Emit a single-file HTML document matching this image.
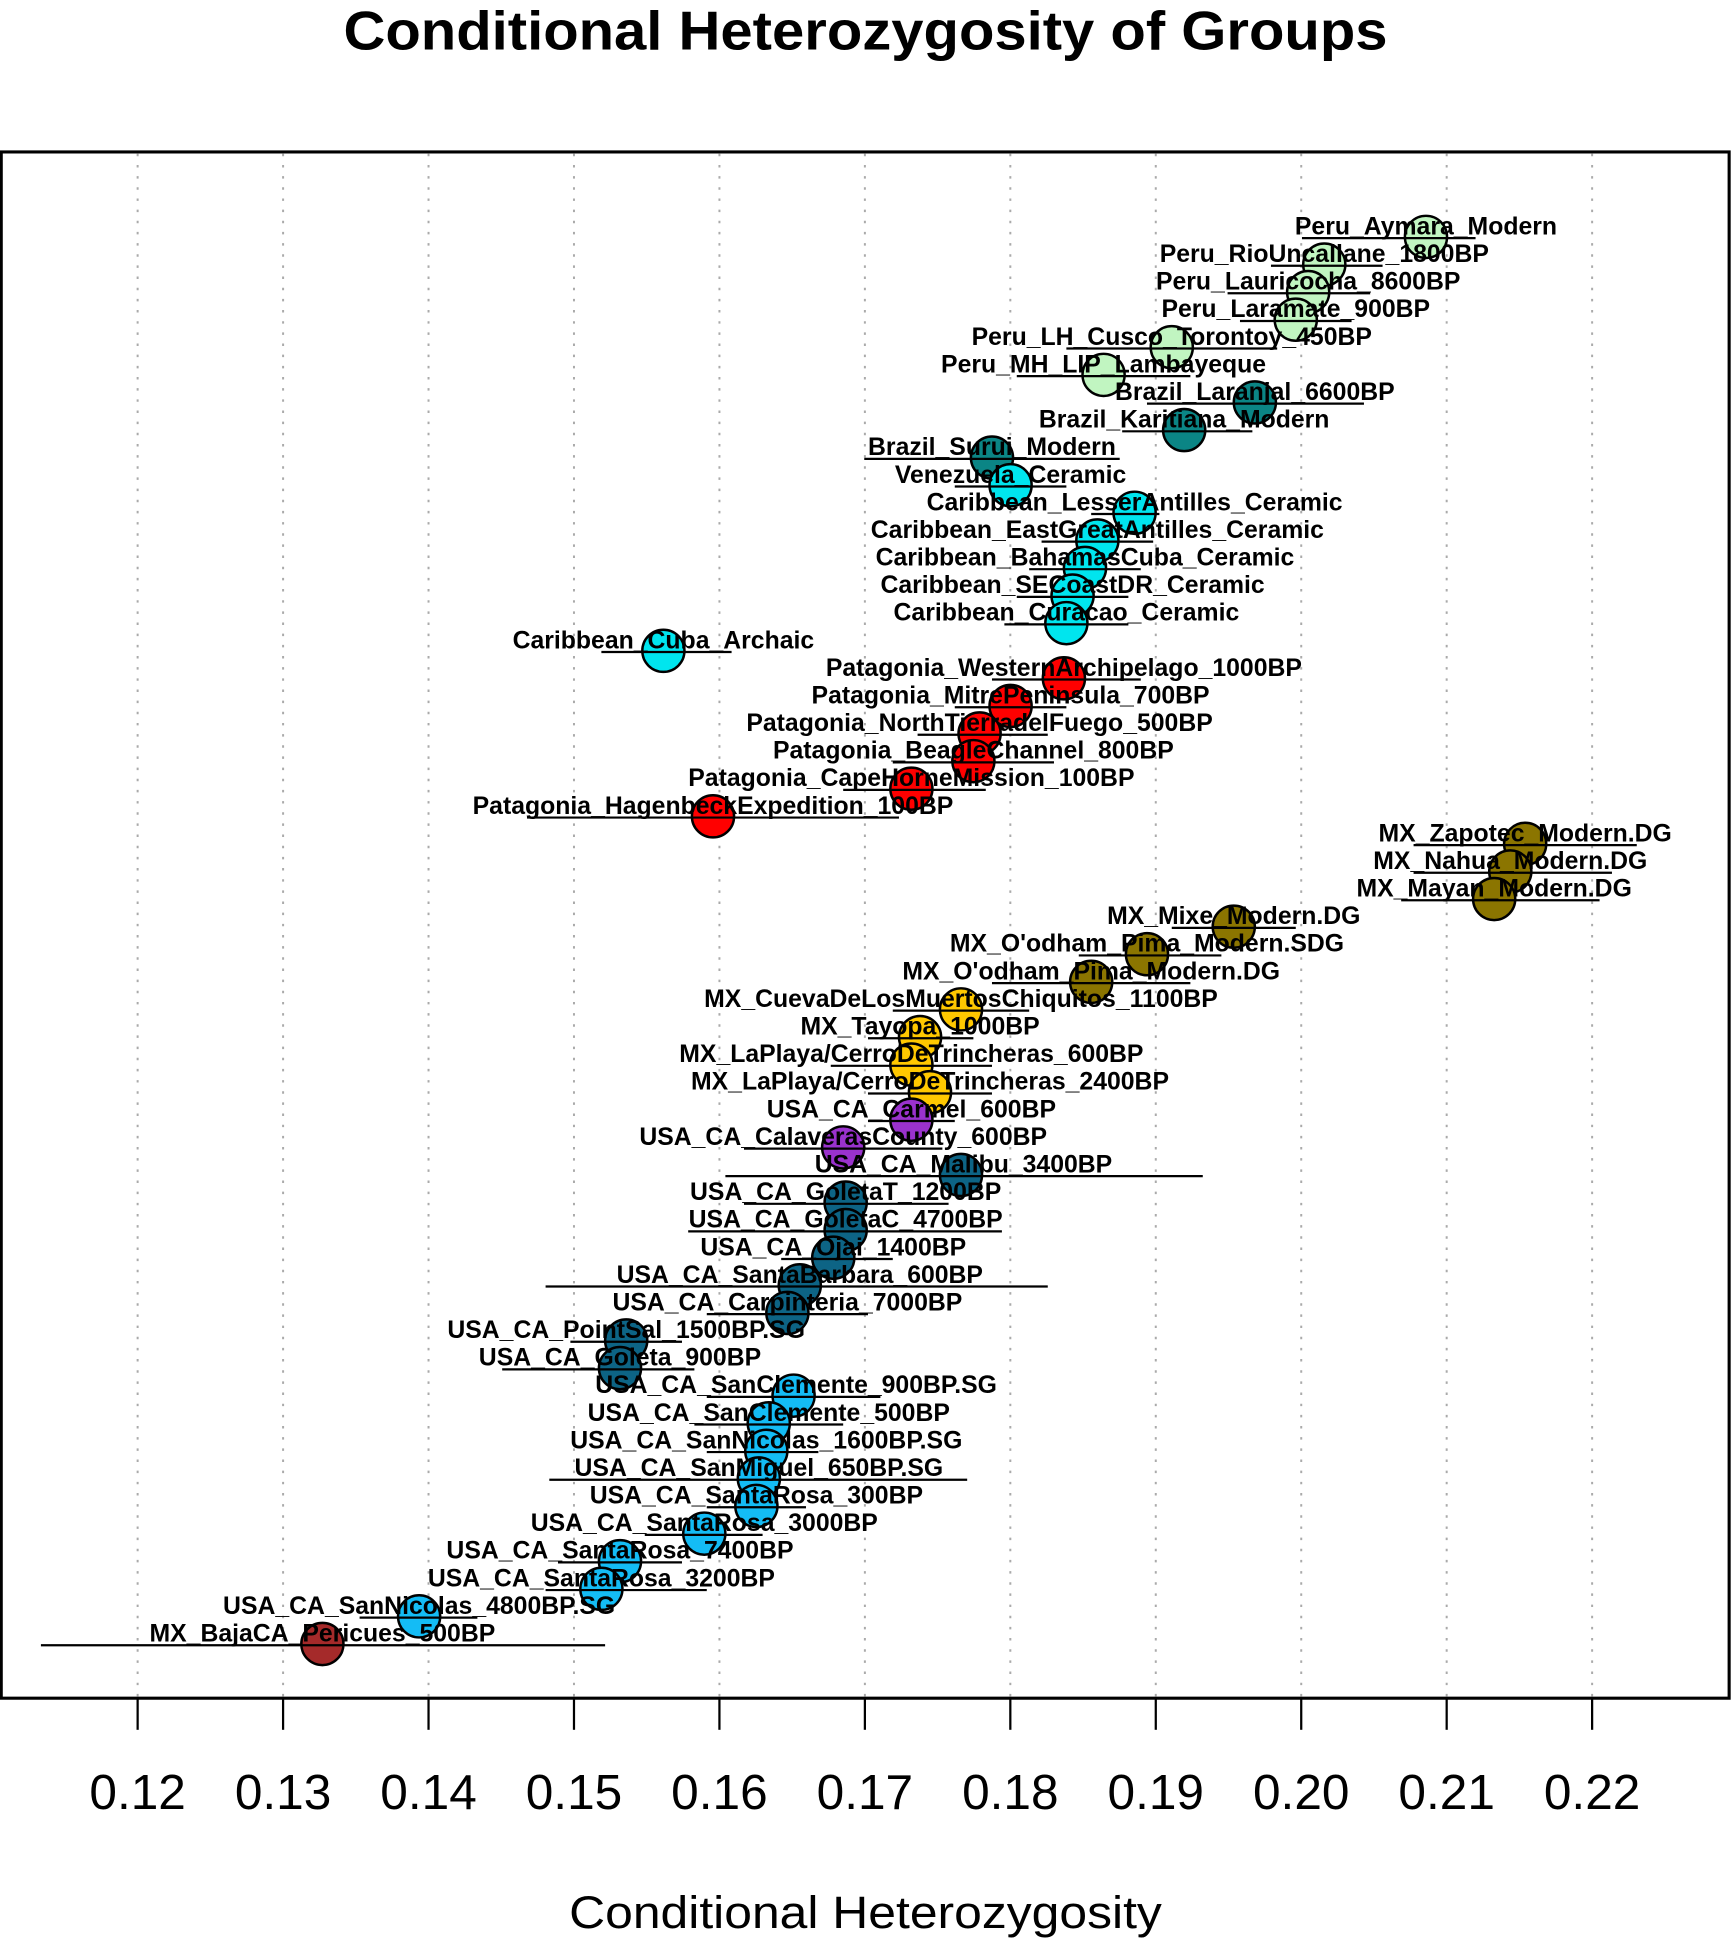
<!DOCTYPE html>
<html><head><meta charset="utf-8"><style>
html,body{margin:0;padding:0;background:#fff}
svg{display:block}
.l{font-family:"Liberation Sans",Arial,sans-serif;font-weight:bold;font-size:20px;text-anchor:middle;fill:#000}
.t{font-family:"Liberation Sans",Arial,sans-serif;font-size:40px;text-anchor:middle;fill:#000}
circle{stroke:#000;stroke-width:2}
.e{stroke:#000;stroke-width:1.8}
</style></head><body>
<svg width="1731" height="1944" viewBox="0 0 1396 1567.7" xmlns="http://www.w3.org/2000/svg">
<rect width="1396" height="1568" fill="#fff"/>
<text x="698" y="40" font-family="Liberation Sans,Arial,sans-serif" font-weight="bold" font-size="44" text-anchor="middle" textLength="842" lengthAdjust="spacingAndGlyphs">Conditional Heterozygosity of Groups</text>
<g stroke="#aaa" stroke-width="1.6" stroke-dasharray="2,7">
<line x1="111" y1="124" x2="111" y2="1369"/><line x1="228.3" y1="124" x2="228.3" y2="1369"/><line x1="345.6" y1="124" x2="345.6" y2="1369"/><line x1="462.9" y1="124" x2="462.9" y2="1369"/><line x1="580.2" y1="124" x2="580.2" y2="1369"/><line x1="697.5" y1="124" x2="697.5" y2="1369"/><line x1="814.8" y1="124" x2="814.8" y2="1369"/><line x1="932.1" y1="124" x2="932.1" y2="1369"/><line x1="1049.4" y1="124" x2="1049.4" y2="1369"/><line x1="1166.7" y1="124" x2="1166.7" y2="1369"/><line x1="1284" y1="124" x2="1284" y2="1369"/>
</g>
<rect x="1" y="122.5" width="1393.5" height="1247" fill="none" stroke="#000" stroke-width="2.5"/>
<g stroke="#000" stroke-width="1.8">
<line x1="111" y1="1370" x2="111" y2="1395"/><line x1="228.3" y1="1370" x2="228.3" y2="1395"/><line x1="345.6" y1="1370" x2="345.6" y2="1395"/><line x1="462.9" y1="1370" x2="462.9" y2="1395"/><line x1="580.2" y1="1370" x2="580.2" y2="1395"/><line x1="697.5" y1="1370" x2="697.5" y2="1395"/><line x1="814.8" y1="1370" x2="814.8" y2="1395"/><line x1="932.1" y1="1370" x2="932.1" y2="1395"/><line x1="1049.4" y1="1370" x2="1049.4" y2="1395"/><line x1="1166.7" y1="1370" x2="1166.7" y2="1395"/><line x1="1284" y1="1370" x2="1284" y2="1395"/>
</g>
<g class="t">
<text x="111" y="1459">0.12</text><text x="228.3" y="1459">0.13</text><text x="345.6" y="1459">0.14</text><text x="462.9" y="1459">0.15</text><text x="580.2" y="1459">0.16</text><text x="697.5" y="1459">0.17</text><text x="814.8" y="1459">0.18</text><text x="932.1" y="1459">0.19</text><text x="1049.4" y="1459">0.20</text><text x="1166.7" y="1459">0.21</text><text x="1284" y="1459">0.22</text>
</g>
<text x="698" y="1555" font-family="Liberation Sans,Arial,sans-serif" font-size="37" text-anchor="middle" textLength="478" lengthAdjust="spacingAndGlyphs">Conditional Heterozygosity</text>

<g>
<circle cx="1150" cy="191" r="17" fill="#c1f5c1"/>
<circle cx="1068" cy="213.3" r="17" fill="#c1f5c1"/>
<circle cx="1055" cy="235.5" r="17" fill="#c1f5c1"/>
<circle cx="1045" cy="257.8" r="17" fill="#c1f5c1"/>
<circle cx="945" cy="280" r="17" fill="#c1f5c1"/>
<circle cx="890" cy="302.3" r="17" fill="#c1f5c1"/>
<circle cx="1012" cy="324.5" r="17" fill="#0b8585"/>
<circle cx="955" cy="346.8" r="17" fill="#0b8585"/>
<circle cx="800" cy="369" r="17" fill="#0b8585"/>
<circle cx="815" cy="391.3" r="17" fill="#00e5ee"/>
<circle cx="915" cy="413.5" r="17" fill="#00e5ee"/>
<circle cx="885" cy="435.8" r="17" fill="#00e5ee"/>
<circle cx="875" cy="458" r="17" fill="#00e5ee"/>
<circle cx="865" cy="480.3" r="17" fill="#00e5ee"/>
<circle cx="860" cy="502.5" r="17" fill="#00e5ee"/>
<circle cx="535" cy="524.8" r="17" fill="#00e5ee"/>
<circle cx="858" cy="547" r="17" fill="#ff0000"/>
<circle cx="815" cy="569.3" r="17" fill="#ff0000"/>
<circle cx="790" cy="591.5" r="17" fill="#ff0000"/>
<circle cx="785" cy="613.8" r="17" fill="#ff0000"/>
<circle cx="735" cy="636" r="17" fill="#ff0000"/>
<circle cx="575" cy="658.3" r="17" fill="#ff0000"/>
<circle cx="1230" cy="680.5" r="17" fill="#8b7500"/>
<circle cx="1218" cy="702.8" r="17" fill="#8b7500"/>
<circle cx="1205" cy="725" r="17" fill="#8b7500"/>
<circle cx="995" cy="747.3" r="17" fill="#8b7500"/>
<circle cx="925" cy="769.5" r="17" fill="#8b7500"/>
<circle cx="880" cy="791.8" r="17" fill="#8b7500"/>
<circle cx="775" cy="814" r="17" fill="#ffc800"/>
<circle cx="742" cy="836.3" r="17" fill="#ffc800"/>
<circle cx="735" cy="858.5" r="17" fill="#ffc800"/>
<circle cx="750" cy="880.8" r="17" fill="#ffc800"/>
<circle cx="735" cy="903" r="17" fill="#9a32cd"/>
<circle cx="680" cy="925.3" r="17" fill="#9a32cd"/>
<circle cx="775" cy="947.5" r="17" fill="#0d6485"/>
<circle cx="682" cy="969.8" r="17" fill="#0d6485"/>
<circle cx="682" cy="992" r="17" fill="#0d6485"/>
<circle cx="672" cy="1014.3" r="17" fill="#0d6485"/>
<circle cx="645" cy="1036.5" r="17" fill="#0d6485"/>
<circle cx="635" cy="1058.8" r="17" fill="#0d6485"/>
<circle cx="505" cy="1081" r="17" fill="#0d6485"/>
<circle cx="500" cy="1103.3" r="17" fill="#0d6485"/>
<circle cx="640" cy="1125.5" r="17" fill="#14bcf5"/>
<circle cx="620" cy="1147.8" r="17" fill="#14bcf5"/>
<circle cx="618" cy="1170" r="17" fill="#14bcf5"/>
<circle cx="612" cy="1192.3" r="17" fill="#14bcf5"/>
<circle cx="610" cy="1214.5" r="17" fill="#14bcf5"/>
<circle cx="568" cy="1236.8" r="17" fill="#14bcf5"/>
<circle cx="500" cy="1259" r="17" fill="#14bcf5"/>
<circle cx="485" cy="1281.3" r="17" fill="#14bcf5"/>
<circle cx="338" cy="1303.5" r="17" fill="#14bcf5"/>
<circle cx="260" cy="1325.8" r="17" fill="#a52a2a"/>
</g>
<g class="e">
<line x1="1050" y1="192" x2="1190" y2="192"/>
<line x1="1025" y1="214.3" x2="1115" y2="214.3"/>
<line x1="990" y1="236.5" x2="1105" y2="236.5"/>
<line x1="1000" y1="258.8" x2="1090" y2="258.8"/>
<line x1="860" y1="281" x2="1030" y2="281"/>
<line x1="820" y1="303.3" x2="960" y2="303.3"/>
<line x1="925" y1="325.5" x2="1100" y2="325.5"/>
<line x1="905" y1="347.8" x2="1010" y2="347.8"/>
<line x1="697" y1="370" x2="903" y2="370"/>
<line x1="770" y1="392.3" x2="860" y2="392.3"/>
<line x1="880" y1="414.5" x2="935" y2="414.5"/>
<line x1="840" y1="436.8" x2="930" y2="436.8"/>
<line x1="830" y1="459" x2="920" y2="459"/>
<line x1="820" y1="481.3" x2="910" y2="481.3"/>
<line x1="810" y1="503.5" x2="910" y2="503.5"/>
<line x1="485" y1="525.8" x2="590" y2="525.8"/>
<line x1="800" y1="548" x2="920" y2="548"/>
<line x1="770" y1="570.3" x2="860" y2="570.3"/>
<line x1="740" y1="592.5" x2="845" y2="592.5"/>
<line x1="720" y1="614.8" x2="850" y2="614.8"/>
<line x1="680" y1="637" x2="795" y2="637"/>
<line x1="425" y1="659.3" x2="725" y2="659.3"/>
<line x1="1140" y1="681.5" x2="1320" y2="681.5"/>
<line x1="1140" y1="703.8" x2="1300" y2="703.8"/>
<line x1="1130" y1="726" x2="1290" y2="726"/>
<line x1="945" y1="748.3" x2="1045" y2="748.3"/>
<line x1="870" y1="770.5" x2="985" y2="770.5"/>
<line x1="800" y1="792.8" x2="960" y2="792.8"/>
<line x1="720" y1="815" x2="830" y2="815"/>
<line x1="700" y1="837.3" x2="785" y2="837.3"/>
<line x1="670" y1="859.5" x2="800" y2="859.5"/>
<line x1="700" y1="881.8" x2="800" y2="881.8"/>
<line x1="700" y1="904" x2="770" y2="904"/>
<line x1="600" y1="926.3" x2="760" y2="926.3"/>
<line x1="585" y1="948.5" x2="970" y2="948.5"/>
<line x1="600" y1="970.8" x2="765" y2="970.8"/>
<line x1="555" y1="993" x2="808" y2="993"/>
<line x1="630" y1="1015.3" x2="720" y2="1015.3"/>
<line x1="440" y1="1037.5" x2="845" y2="1037.5"/>
<line x1="570" y1="1059.8" x2="700" y2="1059.8"/>
<line x1="460" y1="1082" x2="550" y2="1082"/>
<line x1="405" y1="1104.3" x2="560" y2="1104.3"/>
<line x1="570" y1="1126.5" x2="710" y2="1126.5"/>
<line x1="560" y1="1148.8" x2="680" y2="1148.8"/>
<line x1="570" y1="1171" x2="660" y2="1171"/>
<line x1="443" y1="1193.3" x2="780" y2="1193.3"/>
<line x1="570" y1="1215.5" x2="650" y2="1215.5"/>
<line x1="520" y1="1237.8" x2="615" y2="1237.8"/>
<line x1="450" y1="1260" x2="550" y2="1260"/>
<line x1="440" y1="1282.3" x2="570" y2="1282.3"/>
<line x1="290" y1="1304.5" x2="385" y2="1304.5"/>
<line x1="33" y1="1326.8" x2="488" y2="1326.8"/>
</g>
<g class="l">
<text x="1150" y="189">Peru_Aymara_Modern</text>
<text x="1068" y="211.3">Peru_RioUncallane_1800BP</text>
<text x="1055" y="233.5">Peru_Lauricocha_8600BP</text>
<text x="1045" y="255.8">Peru_Laramate_900BP</text>
<text x="945" y="278">Peru_LH_Cusco_Torontoy_450BP</text>
<text x="890" y="300.3">Peru_MH_LIP_Lambayeque</text>
<text x="1012" y="322.5">Brazil_Laranjal_6600BP</text>
<text x="955" y="344.8">Brazil_Karitiana_Modern</text>
<text x="800" y="367">Brazil_Surui_Modern</text>
<text x="815" y="389.3">Venezuela_Ceramic</text>
<text x="915" y="411.5">Caribbean_LesserAntilles_Ceramic</text>
<text x="885" y="433.8">Caribbean_EastGreatAntilles_Ceramic</text>
<text x="875" y="456">Caribbean_BahamasCuba_Ceramic</text>
<text x="865" y="478.3">Caribbean_SECoastDR_Ceramic</text>
<text x="860" y="500.5">Caribbean_Curacao_Ceramic</text>
<text x="535" y="522.8">Caribbean_Cuba_Archaic</text>
<text x="858" y="545">Patagonia_WesternArchipelago_1000BP</text>
<text x="815" y="567.3">Patagonia_MitrePeninsula_700BP</text>
<text x="790" y="589.5">Patagonia_NorthTierradelFuego_500BP</text>
<text x="785" y="611.8">Patagonia_BeagleChannel_800BP</text>
<text x="735" y="634">Patagonia_CapeHorneMission_100BP</text>
<text x="575" y="656.3">Patagonia_HagenbeckExpedition_100BP</text>
<text x="1230" y="678.5">MX_Zapotec_Modern.DG</text>
<text x="1218" y="700.8">MX_Nahua_Modern.DG</text>
<text x="1205" y="723">MX_Mayan_Modern.DG</text>
<text x="995" y="745.3">MX_Mixe_Modern.DG</text>
<text x="925" y="767.5">MX_O'odham_Pima_Modern.SDG</text>
<text x="880" y="789.8">MX_O'odham_Pima_Modern.DG</text>
<text x="775" y="812">MX_CuevaDeLosMuertosChiquitos_1100BP</text>
<text x="742" y="834.3">MX_Tayopa_1000BP</text>
<text x="735" y="856.5">MX_LaPlaya/CerroDeTrincheras_600BP</text>
<text x="750" y="878.8">MX_LaPlaya/CerroDeTrincheras_2400BP</text>
<text x="735" y="901">USA_CA_Carmel_600BP</text>
<text x="680" y="923.3">USA_CA_CalaverasCounty_600BP</text>
<text x="777" y="945.5">USA_CA_Malibu_3400BP</text>
<text x="682" y="967.8">USA_CA_GoletaT_1200BP</text>
<text x="682" y="990">USA_CA_GoletaC_4700BP</text>
<text x="672" y="1012.3">USA_CA_Ojai_1400BP</text>
<text x="645" y="1034.5">USA_CA_SantaBarbara_600BP</text>
<text x="635" y="1056.8">USA_CA_Carpinteria_7000BP</text>
<text x="505" y="1079">USA_CA_PointSal_1500BP.SG</text>
<text x="500" y="1101.3">USA_CA_Goleta_900BP</text>
<text x="642" y="1123.5">USA_CA_SanClemente_900BP.SG</text>
<text x="620" y="1145.8">USA_CA_SanClemente_500BP</text>
<text x="618" y="1168">USA_CA_SanNicolas_1600BP.SG</text>
<text x="612" y="1190.3">USA_CA_SanMiguel_650BP.SG</text>
<text x="610" y="1212.5">USA_CA_SantaRosa_300BP</text>
<text x="568" y="1234.8">USA_CA_SantaRosa_3000BP</text>
<text x="500" y="1257">USA_CA_SantaRosa_7400BP</text>
<text x="485" y="1279.3">USA_CA_SantaRosa_3200BP</text>
<text x="338" y="1301.5">USA_CA_SanNicolas_4800BP.SG</text>
<text x="260" y="1323.8">MX_BajaCA_Pericues_500BP</text>
</g>
</svg>
</body></html>
